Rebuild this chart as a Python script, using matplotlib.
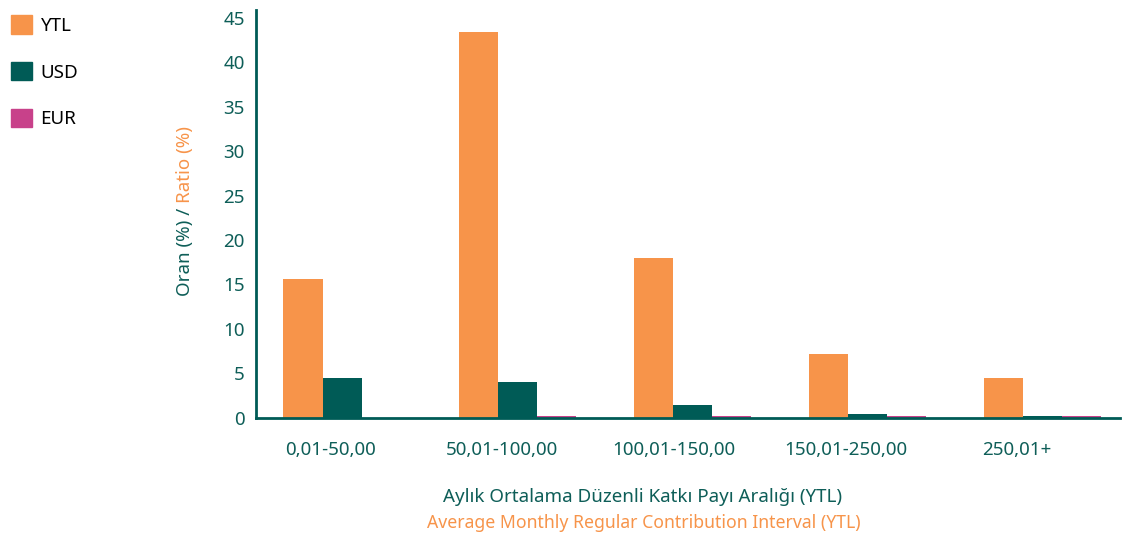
import numpy as np
import matplotlib.pyplot as plt
from matplotlib.patches import Patch

plt.rcParams['font.family'] = ['Noto Sans', 'DejaVu Sans']

categories = ["0,01-50,00", "50,01-100,00", "100,01-150,00", "150,01-250,00", "250,01+"]
ytl = [15.6, 43.45, 18.0, 7.1, 4.5]
usd = [4.5, 4.0, 1.4, 0.4, 0.2]
eur = [0.0, 0.2, 0.2, 0.2, 0.2]
yticks = [0, 5, 10, 15, 20, 25, 30, 35, 40, 45]

ORANGE = "#F7944A"
TEAL = "#005B56"
PINK = "#C8418A"
TXT = "#0E5E58"
FS = 13.5

fig = plt.figure(figsize=(11.23, 5.35), dpi=100)
ax = fig.add_axes([0.228, 0.2196, 0.769, 0.7616])

x = np.arange(len(categories))
w = 0.223
ax.bar(x - w, ytl, w, color=ORANGE, label="YTL")
ax.bar(x, usd, w, color=TEAL, label="USD")
ax.bar(x + w, eur, w, color=PINK, label="EUR")

ax.set_xlim(-0.491, 4.439)
ax.set_ylim(0, 45.9)
ax.set_yticks(yticks)
ax.set_xticks(x * 0.98 - 0.066)
ax.set_xticklabels(categories)
ax.tick_params(axis="both", length=0, labelsize=FS, colors=TXT)
ax.tick_params(axis="y", pad=8)
ax.tick_params(axis="x", pad=17)

for s in ["top", "right"]:
    ax.spines[s].set_visible(False)
for s in ["left", "bottom"]:
    ax.spines[s].set_color(TEAL)
    ax.spines[s].set_linewidth(2)

# axis titles, turkish line in teal, english line in orange
fig.text(0.5726, 1 - 497 / 535, "Aylık Ortalama Düzenli Katkı Payı Aralığı (YTL)",
         ha="center", va="center", fontsize=FS, color=TXT)
fig.text(0.5735, 1 - 523 / 535, "Average Monthly Regular Contribution Interval (YTL)",
         ha="center", va="center", fontsize=12.7, color=ORANGE)

t1 = fig.text(185 / 1123, 1 - 296 / 535, "Oran (%) / ", rotation=90,
              ha="center", va="bottom", fontsize=FS, color=TXT)
fig.canvas.draw()
bb = t1.get_window_extent()
fig.text(185 / 1123, bb.y1 / fig.bbox.height, "Ratio (%)", rotation=90,
         ha="center", va="bottom", fontsize=FS, color=ORANGE)

handles = [Patch(color=ORANGE, label="YTL"), Patch(color=TEAL, label="USD"),
           Patch(color=PINK, label="EUR")]
fig.legend(handles=handles, loc="upper left", bbox_to_anchor=(-0.004, 1.0),
           frameon=False, fontsize=FS, handlelength=1.15, handleheight=1.15,
           handletextpad=0.45, labelspacing=1.45, borderaxespad=0.4)

fig.savefig("out.png", dpi=100)
